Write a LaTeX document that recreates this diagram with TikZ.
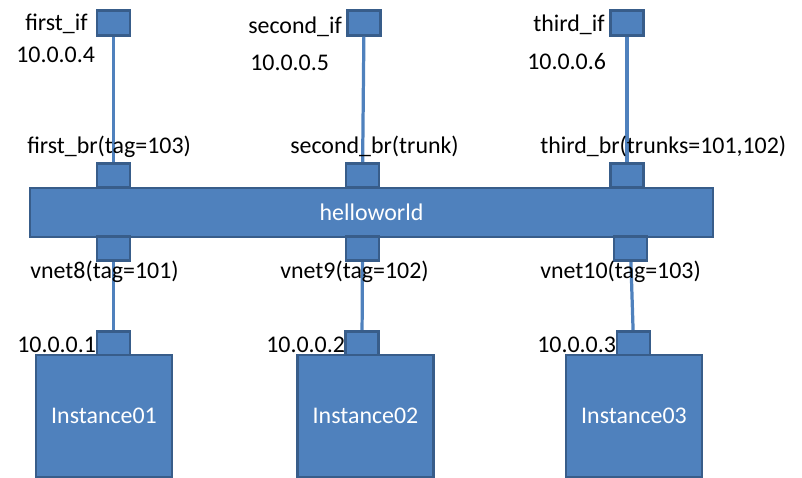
\documentclass[tikz,border=0pt]{standalone}
\usepackage{fontspec}
\setmainfont{Carlito}
\usepackage{tikz}
\definecolor{OvsFill}{HTML}{4F81BD}
\definecolor{OvsLine}{HTML}{385D8A}
\definecolor{OvsWire}{HTML}{4F81BD}
\tikzset{
  portbox/.style={draw=OvsLine,fill=OvsFill,line width=2pt,minimum width=8.25mm,minimum height=6.1mm,inner sep=0pt},
  barbox/.style={draw=OvsLine,fill=OvsFill,line width=2pt,minimum width=170.75mm,minimum height=12.25mm,text=white},
  vmbox/.style={draw=OvsLine,fill=OvsFill,line width=2pt,minimum width=34mm,minimum height=30.5mm,text=white},
  wire/.style={OvsWire,line width=2.3pt},
  lbl/.style={anchor=base west,inner sep=0pt}
}

\begin{document}
\begin{tikzpicture}[x=0.25mm,y=-0.25mm,font=\fontsize{17}{20}\selectfont]
    \useasboundingbox (0,0) rectangle (802,478);
    \node[barbox] (hello) at (371.5,212.5) {helloworld};
    \foreach \i/\xa/\xb/\xc/\xd/\xe in {
      1/113.5/113.5/113.5/113.5/104,
      2/364/362.5/362.5/362/365.5,
      3/627/627/630.5/633.5/634
    } {
      \node[portbox] (if\i) at (\xa,23) {};
      \node[portbox] (br\i) at (\xb,175.5) {};
      \node[portbox] (vnet\i) at (\xc,248.5) {};
      \node[portbox] (ip\i) at (\xd,343.5) {};
      \node[vmbox] (inst\i) at (\xe,416) {Instance0\i};
      \draw[wire] (if\i) -- (br\i);
      \draw[wire] (vnet\i) -- (ip\i);
    }
    % labels
    \node[lbl] (ifname1) at (25,31) {first\_if};
    \node[lbl] (ifaddr1) at (16,63) {10.0.0.4};
    \node[lbl] (ifname2) at (248,34) {second\_if};
    \node[lbl] (ifaddr2) at (250,71) {10.0.0.5};
    \node[lbl] (ifname3) at (533,32) {third\_if};
    \node[lbl] (ifaddr3) at (527,70) {10.0.0.6};
    \node[lbl] (brname1) at (27,154) {first\_br(tag=103)};
    \node[lbl] (brname2) at (290,154) {second\_br(trunk)};
    \node[lbl] (brname3) at (540,154) {third\_br(trunks=101,102)};
    \node[lbl] (vnetname1) at (30,278) {vnet8(tag=101)};
    \node[lbl] (vnetname2) at (280,278) {vnet9(tag=102)};
    \node[lbl] (vnetname3) at (540,278) {vnet10(tag=103)};
    \node[lbl] (ipaddr1) at (17,352) {10.0.0.1};
    \node[lbl] (ipaddr2) at (266,352) {10.0.0.2};
    \node[lbl] (ipaddr3) at (537,352) {10.0.0.3};
  \end{tikzpicture}
\end{document}
